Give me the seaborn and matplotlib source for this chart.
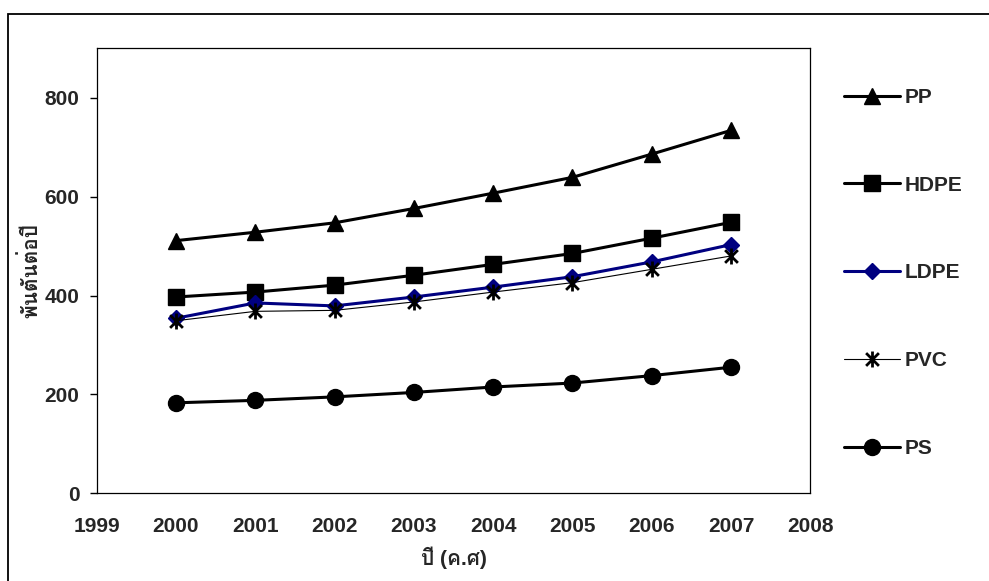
import matplotlib
matplotlib.use("Agg")
import matplotlib.pyplot as plt
from matplotlib import font_manager
from matplotlib.ft2font import FT2Font
from matplotlib.patches import Rectangle
from matplotlib.path import Path
import seaborn as sns

# Annual plastic resin demand (thousand tonnes per year)
years = [2000, 2001, 2002, 2003, 2004, 2005, 2006, 2007]
pp = [511, 528, 547, 576, 607, 639, 686, 734]
hdpe = [397, 407, 421, 441, 463, 485, 516, 548]
ldpe = [354, 385, 379, 397, 417, 438, 468, 503]
pvc = [349, 368, 370, 387, 407, 426, 453, 480]
ps = [183, 188, 195, 204, 215, 223, 238, 255]

series_names = ["PP", "HDPE", "LDPE", "PVC", "PS"]
x_ticks = list(range(1999, 2009))
y_ticks = [0, 200, 400, 600, 800]
y_label = "พันตันต่อปี"
x_label = "ปี (ค.ศ)"

sns.set_style("white")


def find_thai_family():
    """Return the name of an installed font that has Thai glyphs."""
    for entry in font_manager.fontManager.ttflist:
        try:
            cmap = FT2Font(entry.fname).get_charmap()
        except Exception:
            continue
        if 0x0E1E in cmap and 0x0E35 in cmap and 0x0E1B in cmap:
            return entry.name
    return None


thai = find_thai_family()
latin = "Liberation Sans"
label_family = [latin] + ([thai] if thai else []) + ["DejaVu Sans"]
plt.rcParams["font.family"] = [latin, "DejaVu Sans"]

# asterisk marker: an X crossed by a vertical stroke
asterisk = Path(
    [(0, -1), (0, 1), (-0.8, -0.8), (0.8, 0.8), (-0.8, 0.8), (0.8, -0.8)],
    [Path.MOVETO, Path.LINETO, Path.MOVETO, Path.LINETO, Path.MOVETO, Path.LINETO],
)

W, H = 989, 581
fig = plt.figure(figsize=(W / 100, H / 100), dpi=100)
fig.patch.set_facecolor("white")

# outer chart-area frame
fig.add_artist(Rectangle((8.3 / W, -0.1), 1.2, 1 - 14 / H + 0.1,
                         transform=fig.transFigure, fill=False,
                         edgecolor="black", linewidth=1.3, zorder=0))

left, right, top, bottom = 96.7, 810.3, 48.3, 493.3
ax = fig.add_axes([left / W, 1 - bottom / H, (right - left) / W, (bottom - top) / H])
ax.set_facecolor("none")

styles = [
    (pp, "black", "^", 12, 2.2, 1.0),
    (hdpe, "black", "s", 11.5, 2.2, 1.0),
    (ldpe, "#000080", "D", 8, 2.2, 1.0),
    (pvc, "black", asterisk, 11.5, 0.8, 2.0),
    (ps, "black", "o", 11.5, 2.2, 1.0),
]
for name, (vals, color, marker, ms, lw, mew) in zip(series_names, styles):
    sns.lineplot(x=years, y=vals, ax=ax, color=color, marker=marker,
                 markersize=ms, linewidth=lw, markeredgecolor=color,
                 markerfacecolor=color, markeredgewidth=mew, label=name)

ax.set_xlim(1999, 2008)
ax.set_ylim(0, 900)
ax.set_xticks(x_ticks)
ax.set_yticks(y_ticks)
ax.set_xticklabels([str(t) for t in x_ticks])
ax.tick_params(axis="x", length=0, pad=17, labelsize=15)
ax.tick_params(axis="y", length=4.8, width=1, direction="out", pad=7.5,
               labelsize=15, color="black", left=True)
for lab in ax.get_xticklabels() + ax.get_yticklabels():
    lab.set_fontweight("bold")
for sp in ax.spines.values():
    sp.set_color("black")
    sp.set_linewidth(0.9)

ax.set_ylabel(y_label, family=label_family, fontsize=15, fontweight="bold")
ax.yaxis.set_label_coords(-0.078, 0.5)
ax.set_xlabel(x_label, family=label_family, fontsize=15, fontweight="bold")
ax.xaxis.set_label_coords(0.5, -0.12)

handles, labels = ax.get_legend_handles_labels()
ax.legend(handles, labels, loc="center left",
          bbox_to_anchor=(844 / W, 1 - 272.8 / H), bbox_transform=fig.transFigure,
          frameon=False, borderpad=0, borderaxespad=0, handlelength=2.7,
          handletextpad=0.2, labelspacing=3.3,
          prop={"family": latin, "size": 15, "weight": "bold"})

fig.savefig("out.png", dpi=100, facecolor="white")
